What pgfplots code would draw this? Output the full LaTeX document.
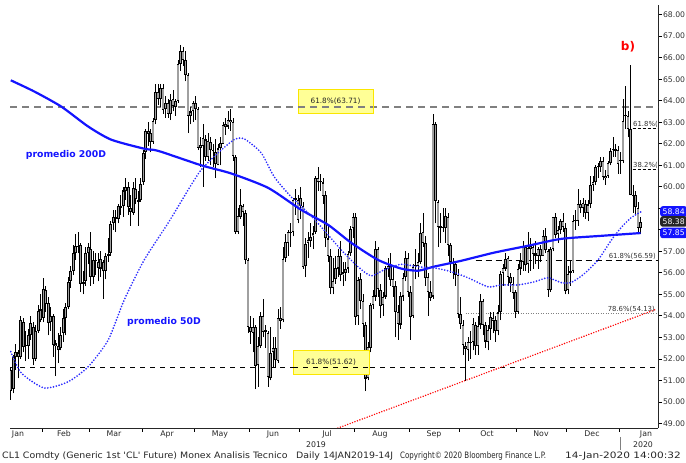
\documentclass[border=0pt]{standalone}
\usepackage{pgfplots}
\pgfplotsset{compat=1.18}
\usepackage{pgfplotstable}
\usepackage{fontspec}
\setmainfont{DejaVu Sans}
\definecolor{mablue}{RGB}{20,20,255}
\definecolor{dotblue}{RGB}{45,45,255}
\definecolor{bodygray}{RGB}{160,160,160}
\definecolor{yfill}{RGB}{255,255,150}
\definecolor{yborder}{RGB}{250,230,0}
\definecolor{fibgray}{RGB}{128,128,128}

\pgfplotstableread{
x o h l c
0 51.5 51.6 50.1 50.51
1 50.6 52.2 50.4 52.11
2 52.1 52.7 51.5 52.31
3 52.3 52.4 51.1 52.07
4 52.1 54.0 52.0 53.80
5 53.7 53.9 52.3 52.57
6 52.6 53.3 51.9 52.62
7 52.6 53.4 52.0 53.13
8 53.1 54.0 52.9 53.69
9 53.5 53.7 51.7 51.99
10 52.0 53.6 51.9 53.31
11 53.3 54.5 53.2 54.23
12 54.3 55.0 53.7 53.79
13 53.9 55.75 53.7 55.26
14 55.2 55.4 54.2 54.56
15 54.6 54.9 53.1 53.66
16 53.7 54.4 53.3 54.01
17 54.0 54.1 52.1 52.64
18 52.6 52.9 51.2 52.72
19 52.6 53.2 51.8 52.41
20 52.5 53.5 52.4 53.10
21 53.2 54.3 52.8 53.90
22 53.9 54.6 53.1 54.41
23 54.4 55.8 54.3 55.59
24 55.6 56.3 55.3 56.09
25 56.1 57.3 55.9 56.92
26 56.9 57.8 56.6 57.26
27 57.2 57.9 56.9 57.26
28 57.3 57.4 55.1 55.48
29 55.5 56.1 55.0 55.50
30 55.6 57.2 55.4 56.94
31 56.9 57.4 56.4 57.22
32 57.1 57.9 55.4 55.80
33 55.8 57.0 55.5 56.59
34 56.6 56.9 55.9 56.56
35 56.5 56.9 55.6 56.22
36 56.2 57.0 55.8 56.66
37 56.5 56.6 54.8 56.07
38 56.1 56.9 55.7 56.79
39 56.8 57.6 56.5 56.87
40 56.9 58.4 56.8 58.26
41 58.3 58.9 58.0 58.61
42 58.6 58.9 57.9 58.52
43 58.5 59.2 58.3 59.09
44 59.1 59.6 58.7 59.03
45 59.1 60.0 58.6 59.83
46 59.8 60.4 59.4 59.98
47 60.0 60.2 58.7 59.04
48 59.0 59.6 58.2 58.82
49 58.8 60.2 58.7 59.94
50 59.9 60.4 59.2 59.41
51 59.4 59.8 58.2 59.30
52 59.4 60.4 59.3 60.14
53 60.2 61.7 60.1 61.59
54 61.6 62.7 61.3 62.58
55 62.6 63.0 61.9 62.46
56 62.5 62.7 61.6 62.10
57 62.1 63.2 62.0 63.08
58 63.1 64.8 62.9 64.40
59 64.4 64.8 63.8 64.10
60 64.1 64.8 63.7 64.61
61 64.6 64.8 63.4 63.58
62 63.6 64.2 63.2 63.89
63 63.9 64.1 63.2 63.40
64 63.4 64.3 63.1 64.05
65 64.1 64.5 63.5 63.76
66 63.7 64.1 63.3 64.00
67 64.0 65.9 63.9 65.70
68 65.7 66.6 65.4 66.30
69 66.3 66.5 65.6 65.89
70 65.9 66.3 64.9 65.21
71 65.2 65.3 62.5 63.30
72 63.3 63.7 62.9 63.50
73 63.5 64.0 63.0 63.91
74 63.9 64.2 63.1 63.60
75 63.6 63.7 61.7 61.81
76 61.8 62.3 60.9 61.94
77 61.9 62.9 60.0 62.25
78 62.2 62.4 61.2 61.40
79 61.4 62.5 61.2 62.12
80 62.1 62.3 61.0 61.70
81 61.7 62.0 60.9 61.66
82 61.6 62.2 60.4 61.04
83 61.0 62.0 61.0 61.78
84 61.8 62.3 61.0 62.02
85 62.0 63.0 62.0 62.87
86 62.9 63.2 62.4 62.76
87 62.8 63.5 62.7 63.10
88 63.1 63.6 62.6 62.99
89 63.0 63.2 61.2 61.42
90 61.4 61.5 57.8 57.91
91 57.9 59.0 57.8 58.63
92 58.6 59.9 58.5 59.14
93 59.1 59.2 58.2 58.81
94 58.8 58.9 56.4 56.59
95 56.6 56.7 53.2 53.50
96 53.5 54.0 52.7 53.25
97 53.2 53.9 52.3 53.48
98 53.5 53.6 50.6 51.68
99 51.7 53.0 50.7 52.59
100 52.6 54.2 52.5 53.99
101 54.0 54.8 53.0 53.26
102 53.3 53.6 52.5 53.27
103 53.2 53.3 50.7 51.14
104 51.1 53.5 51.0 52.28
105 52.3 53.0 51.6 52.51
106 52.5 53.0 51.6 51.93
107 51.9 54.3 51.8 53.90
108 53.9 54.4 53.4 53.76
109 53.8 57.2 53.7 56.65
110 56.7 57.8 56.5 57.43
111 57.4 58.0 56.8 57.90
112 57.9 58.3 57.2 57.83
113 57.9 59.5 57.7 59.38
114 59.4 59.9 58.7 59.43
115 59.4 59.6 58.3 58.47
116 59.5 60.0 58.5 59.09
117 59.1 59.3 56.2 56.25
118 56.3 57.6 55.8 57.34
119 57.4 57.9 56.7 57.51
120 57.5 58.3 57.2 57.66
121 57.7 58.2 57.1 57.83
122 57.9 60.5 57.8 60.43
123 60.4 60.9 59.8 60.20
124 60.2 60.6 59.8 60.21
125 60.2 60.4 59.2 59.58
126 59.6 59.8 57.2 57.62
127 57.6 58.2 56.5 56.78
128 56.8 57.1 55.0 55.30
129 55.3 56.7 55.0 55.63
130 55.7 56.8 55.5 56.22
131 56.2 57.1 55.8 56.77
132 56.8 57.5 55.6 55.88
133 55.9 56.5 55.4 56.02
134 56.0 56.5 55.6 56.20
135 56.2 57.0 56.0 56.87
136 56.9 58.2 56.8 58.05
137 58.1 58.8 57.6 58.58
138 58.6 58.8 53.6 53.95
139 54.0 55.8 53.6 55.66
140 55.7 56.0 54.3 54.69
141 54.7 55.0 53.0 53.63
142 53.6 53.7 50.5 51.09
143 51.1 52.8 51.0 52.54
144 52.5 54.6 52.3 54.50
145 54.5 55.2 54.3 54.93
146 54.9 57.5 54.7 57.10
147 57.1 57.2 54.9 55.23
148 55.2 55.5 53.9 54.47
149 54.5 55.1 54.0 54.87
150 54.9 56.3 54.8 56.21
151 56.2 56.7 55.8 56.34
152 56.3 56.9 55.4 55.68
153 55.7 56.3 54.9 55.35
154 55.4 55.6 53.0 54.17
155 54.2 54.5 52.9 53.64
156 53.6 55.1 53.4 54.93
157 54.9 56.0 54.7 55.78
158 55.8 57.0 55.6 56.71
159 56.7 56.9 54.9 55.10
160 55.1 55.4 52.9 53.94
161 54.0 56.4 53.9 56.26
162 56.3 57.1 55.7 56.30
163 56.3 56.9 55.8 56.52
164 56.5 58.3 56.4 57.85
165 57.9 58.8 57.2 57.40
166 57.4 57.7 55.4 55.75
167 55.8 56.0 54.0 55.09
168 55.1 55.6 54.7 54.85
169 54.9 63.4 54.8 62.90
170 62.9 63.0 58.3 59.34
171 59.3 59.4 57.2 58.11
172 58.1 58.8 57.4 58.13
173 58.1 59.0 57.9 58.09
174 58.1 59.0 57.4 58.64
175 58.6 58.8 56.8 57.29
176 57.3 57.4 56.0 56.49
177 56.5 56.7 55.7 56.41
178 56.4 56.5 55.4 55.91
179 55.9 56.2 53.9 54.07
180 54.1 54.9 53.4 53.62
181 53.6 53.8 52.2 52.64
182 52.6 52.8 50.99 52.45
183 52.4 53.0 51.9 52.81
184 52.8 53.3 52.0 52.75
185 52.8 53.9 52.4 53.63
186 53.6 53.7 52.2 52.59
187 52.6 54.0 52.2 53.55
188 53.6 55.0 53.4 54.70
189 54.7 54.8 53.1 53.59
190 53.6 53.7 52.5 52.81
191 52.8 53.6 52.4 53.36
192 53.4 54.2 52.9 53.93
193 53.9 54.2 53.2 53.78
194 53.8 54.0 52.8 53.31
195 53.3 54.5 53.1 54.16
196 54.2 56.1 53.8 55.97
197 56.0 56.4 55.4 56.23
198 56.2 56.9 56.1 56.66
199 56.7 56.8 55.4 55.81
200 55.8 56.0 55.1 55.54
201 55.5 55.8 54.8 55.06
202 55.1 55.2 53.9 54.18
203 54.2 56.4 54.1 56.20
204 56.2 56.9 55.9 56.54
205 56.5 57.5 56.1 57.23
206 57.2 57.3 56.1 56.35
207 56.4 57.9 56.0 57.15
208 57.1 57.6 56.1 57.24
209 57.2 57.3 56.2 56.86
210 56.9 57.5 56.4 56.80
211 56.8 57.2 56.2 57.12
212 57.1 57.3 56.5 56.77
213 56.8 58.0 56.8 57.72
214 57.7 58.1 56.9 57.05
215 57.0 57.1 54.9 55.21
216 55.2 57.2 55.1 57.11
217 57.1 58.6 57.0 58.58
218 58.6 58.8 57.6 57.77
219 57.8 58.2 57.4 58.01
220 58.0 58.5 57.8 58.41
221 58.4 58.8 57.9 58.11
222 58.1 58.3 55.0 55.17
223 55.2 56.3 55.0 55.96
224 56.0 56.6 55.4 56.10
225 56.1 58.7 56.0 58.43
226 58.4 58.9 58.0 58.43
227 58.4 59.9 58.2 59.20
228 59.2 59.4 58.8 59.02
229 59.0 59.5 58.6 59.24
230 59.2 59.4 58.5 58.76
231 58.8 59.4 58.4 59.18
232 59.2 60.5 59.0 60.07
233 60.1 60.5 59.8 60.21
234 60.2 61.0 60.1 60.94
235 60.9 61.1 60.4 60.93
236 60.9 61.4 60.7 61.22
237 61.2 61.4 60.3 60.44
238 60.4 60.8 60.1 60.52
239 60.5 61.2 60.4 61.11
240 61.1 61.8 61.0 61.68
241 61.7 62.3 61.4 61.72
242 61.7 62.0 61.4 61.68
243 61.7 61.9 60.6 61.06
244 61.2 61.6 60.6 61.18
245 61.2 64.1 61.1 63.05
246 63.3 64.7 62.7 63.27
247 63.3 63.5 62.3 62.70
248 62.7 65.65 59.6 59.61
249 59.6 60.1 58.8 59.56
250 59.6 59.8 58.7 59.04
251 59.0 59.3 57.9 58.08
252 58.1 58.6 57.8 58.38
}\candles

\begin{document}
\begin{tikzpicture}[x=1bp,y=1bp]
\useasboundingbox (0,0) rectangle (686,463);
\begin{axis}[
  at={(10bp,35bp)}, anchor=south west,
  scale only axis, width=648bp, height=423bp,
  xmin=-0.3, xmax=259, ymin=48.79, ymax=68.45,
  axis x line*=bottom, axis y line*=right,
  axis line style={black!85, line width=0.8bp},
  xtick={12.5,31.5,52.5,73.5,95.5,115.5,137.5,159.5,179.5,202.5,222.5,243.5},
  xticklabels={},
  ytick={49,50,51,52,53,54,55,56,57,60,61,62,63,64,65,66,67,68},
  extra y ticks={58,59}, extra y tick labels={},
  minor y tick num=1,
  tick align=outside, major tick length=4bp, minor tick length=2.5bp,
  every tick/.style={black, line width=0.8bp},
  /pgf/number format/assume math mode=true,
  yticklabel style={font=\fontsize{7.7bp}{9bp}\selectfont, xshift=-2.5bp, text=black!80},
  yticklabel={\pgfmathprintnumber[fixed,fixed zerofill,precision=2]{\tick}},
]
% Fibonacci / reference lines
\addplot[fibgray, line width=1.1bp, dash pattern=on 7bp off 5bp, forget plot] coordinates {(-0.3,63.71) (259,63.71)};
\addplot[black, line width=0.7bp, dash pattern=on 5bp off 5bp, forget plot] coordinates {(-0.3,51.62) (259,51.62)};
\addplot[black, line width=0.7bp, dash pattern=on 6bp off 4bp, forget plot] coordinates {(186,56.59) (259,56.59)};
\addplot[fibgray, line width=0.9bp, dash pattern=on 1bp off 1.5bp, forget plot] coordinates {(182,54.13) (259,54.13)};
\addplot[black, line width=0.7bp, dash pattern=on 3bp off 2bp, forget plot] coordinates {(248.8,62.70) (259,62.70)};
\addplot[black, line width=0.7bp, dash pattern=on 3bp off 2bp, forget plot] coordinates {(248.8,60.82) (259,60.82)};
% candle wicks
\addplot[draw=none, mark=none, forget plot,
  error bars/.cd, y dir=plus, y explicit, error mark=none,
  error bar style={draw=black, line width=0.7bp, line cap=butt}]
  table[x=x, y=l, y error expr=\thisrow{h}-\thisrow{l}] {\candles};
% candle bodies (outline)
\addplot[draw=none, mark=none, forget plot,
  error bars/.cd, y dir=plus, y explicit, error mark=none,
  error bar style={draw=black, line width=2.6bp, line cap=butt}]
  table[x=x, y expr={min(\thisrow{o},\thisrow{c})}, y error expr={max(abs(\thisrow{c}-\thisrow{o}),0.06)}] {\candles};
% candle bodies (gray inside)
\addplot[draw=none, mark=none, forget plot,
  error bars/.cd, y dir=plus, y explicit, error mark=none,
  error bar style={draw=bodygray, line width=1.4bp, line cap=butt}]
  table[x=x, y expr={min(\thisrow{o},\thisrow{c})+0.05}, y error expr={max(abs(\thisrow{c}-\thisrow{o})-0.1,0)}] {\candles};
% 200D moving average
\addplot[mablue, line width=2.2bp, smooth, tension=0.4, mark=none] coordinates {
(0,64.95) (9.4,64.43) (20.2,63.73) (31,62.8) (40.2,62.19) (53.4,61.77) (59,61.67)
(76.2,61.0) (88.2,60.62) (103,59.95) (116.2,58.93) (127,58.23) (136.2,57.4) (147,56.6)
(156.2,56.2) (163,56.1) (169.4,56.29) (180.2,56.56) (193.4,56.94) (207,57.26) (220.2,57.58)
(236.2,57.72) (252,57.85)};
% 50D moving average
\addplot[dotblue, line width=1.9bp, dash pattern=on 0bp off 2.9bp, line cap=round, smooth, tension=0.4, mark=none] coordinates {
(0,52.34) (4.2,51.35) (13.4,50.65) (23,50.94) (31,51.64) (39,52.88) (45.4,54.74) (53.4,56.6)
(63,58.32) (71,59.86) (76.2,60.79) (83,61.58) (89.4,62.19) (93.4,62.23) (100.2,61.58)
(105.4,60.47) (112.2,59.53) (119,58.79) (124.2,58.14) (132.2,57.07) (139,56.28) (144.2,55.86)
(149.4,56.14) (156.2,56.4) (163,56.28) (169.4,56.23) (176.2,56.06) (183,55.77) (191,55.35)
(196.2,55.44) (203,55.44) (209.4,55.58) (215,55.77) (220.2,55.55) (224.2,55.55) (229.4,55.95)
(235,56.6) (240.2,57.5) (244.2,58.1) (248.2,58.56) (252.2,58.84)};
% red trend line
\addplot[red, line width=1.6bp, dash pattern=on 0bp off 2.6bp, line cap=round, mark=none] coordinates {(128,48.66) (258.6,54.32)};
\end{axis}

% month labels
\begin{scope}[font=\fontsize{7.8bp}{9bp}\selectfont, text=black!85]
\node at (18,29) {Jan};
\node at (64,29) {Feb};
\node at (114,29) {Mar};
\node at (167,29) {Apr};
\node at (220,29) {May};
\node at (273,29) {Jun};
\node at (327,29) {Jul};
\node at (380,29) {Aug};
\node at (434,29) {Sep};
\node at (487,29) {Oct};
\node at (541,29) {Nov};
\node at (592,29) {Dec};
\node at (646,29) {Jan};
\node at (316,18) {2019};
\node at (643,18) {2020};
\end{scope}
\draw[black!50, line width=0.6bp] (620,26) -- (620,13);

% footer
\begin{scope}[font=\fontsize{8.8bp}{10bp}\selectfont, text=black!85]
\node[anchor=west, inner sep=0pt] at (2,7) {\scalebox{1.07}[1]{CL1 Comdty (Generic 1st \textquotesingle CL\textquotesingle\ Future) Monex Analisis Tecnico}};
\node[anchor=west, inner sep=0pt] at (296,7) {\scalebox{1.07}[1]{Daily 14JAN2019-14J}};
\node[anchor=west, inner sep=0pt] at (400,7) {\scalebox{0.805}[1]{Copyright© 2020 Bloomberg Finance L.P.}};
\node[anchor=west, inner sep=0pt] at (565,7) {\scalebox{1.2}[1]{14-Jan-2020 14:00:32}};
\end{scope}

% annotations
\node[text=mablue, font=\bfseries\fontsize{9.3bp}{11bp}\selectfont] at (66,308) {promedio 200D};
\node[text=mablue, font=\bfseries\fontsize{9.3bp}{11bp}\selectfont] at (164,141) {promedio 50D};
\node[text=red, font=\bfseries\fontsize{12bp}{14bp}\selectfont] at (628,416) {b)};

\node[fill=yfill, draw=yborder, line width=0.6bp, minimum width=75bp, minimum height=24bp, inner sep=0pt,
  font=\fontsize{7.3bp}{8bp}\selectfont, text=black!85] at (335.5,362) {61.8\%(63.71)};
\node[fill=yfill, draw=yborder, line width=0.6bp, minimum width=76bp, minimum height=24bp, inner sep=0pt,
  font=\fontsize{7.3bp}{8bp}\selectfont, text=black!85] at (331,101) {61.8\%(51.62)};
\draw[black, line width=0.7bp, dash pattern=on 5bp off 5bp] (293,96) -- (369,96);
\draw[fibgray, line width=1.1bp, dash pattern=on 7bp off 5bp] (298,356) -- (373,356);

\begin{scope}[font=\fontsize{6.9bp}{8bp}\selectfont, text=black!80]
\node[anchor=south east, inner sep=1pt] at (657,202.5) {61.8\%(56.59)};
\node[anchor=south east, inner sep=1pt] at (656,149.5) {78.6\%(54.13)};
\node[anchor=south west, inner sep=1pt] at (632,334) {61.8\%(};
\node[anchor=south west, inner sep=1pt] at (632,293.5) {38.2\%(};
\end{scope}

% right-axis value boxes
\begin{scope}[font=\fontsize{7.7bp}{9bp}\selectfont, text=white]
\node[fill=mablue, rounded corners=2.5bp, anchor=west, minimum width=27bp, minimum height=10.5bp, inner sep=0pt] at (660,251.5) {58.84};
\node[fill=black!85, rounded corners=2.5bp, anchor=west, minimum width=27bp, minimum height=10.5bp, inner sep=0pt] at (660,241.5) {58.38};
\node[fill=mablue, rounded corners=2.5bp, anchor=west, minimum width=27bp, minimum height=10.5bp, inner sep=0pt] at (660,230) {57.85};
\end{scope}
\end{tikzpicture}
\end{document}
